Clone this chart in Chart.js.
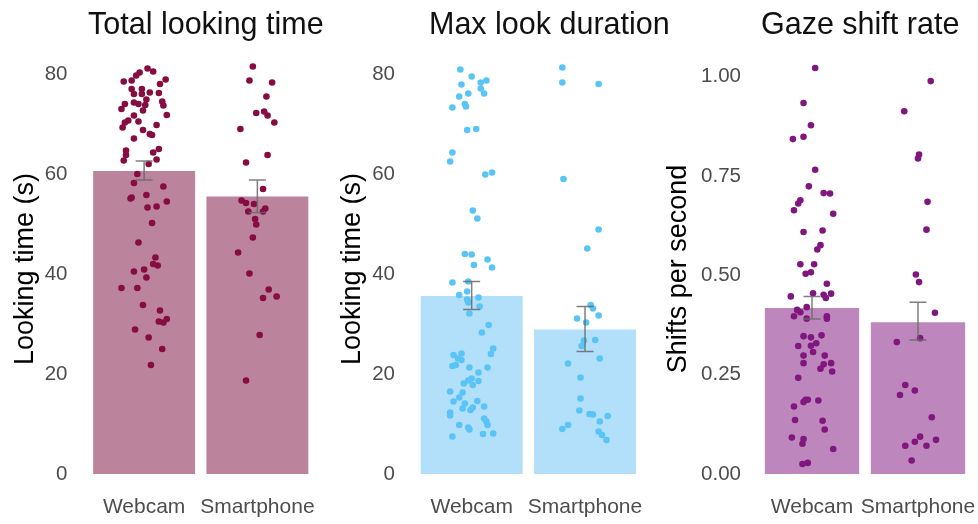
<!DOCTYPE html>
<html>
<head>
<meta charset="utf-8">
<script src="https://cdn.jsdelivr.net/npm/chart.js@4.4.1/dist/chart.umd.min.js"></script>
<style>
  html, body { margin: 0; padding: 0; background: #ffffff; }
  #wrap { position: relative; width: 978px; height: 524px; overflow: hidden; }
  .panel { position: absolute; top: 0; height: 524px; }
  canvas { display: block; }
</style>
</head>
<body>
<div id="wrap">
  <div class="panel" style="left:0px;width:326px"><canvas id="total" width="326" height="524"></canvas></div>
  <div class="panel" style="left:326px;width:346px"><canvas id="maxlook" width="346" height="524"></canvas></div>
  <div class="panel" style="left:652px;width:326px"><canvas id="shift" width="326" height="524"></canvas></div>
</div>
<script>
// ---- data ---------------------------------------------------------------
const groups = ['Webcam', 'Smartphone'];
const groupPositions = [0, 1];

const lookTicks = [0, 20, 40, 60, 80];
const shiftTicks = [0, 0.25, 0.5, 0.75, 1];

// Total looking time (s): group means and standard-error limits
const totalMean = [60.6, 55.5];
const totalLow = [58.8, 52.3];
const totalHigh = [62.6, 58.8];
// per-participant values, with horizontal jitter in group units
const totalWebcam = [78.5, 78.7, 79.7, 80.3, 81.1, 80.5, 78.9, 78.0, 77.0, 77.0, 76.0, 76.0, 76.3, 76.2, 74.9, 74.3, 74.0, 74.0, 73.0, 73.8, 74.5, 73.7, 72.7, 71.7, 71.8, 70.7, 70.3, 69.3, 70.5, 69.8, 68.8, 68.0, 67.8, 67.1, 64.7, 63.8, 62.7, 65.0, 64.3, 62.9, 62.0, 60.0, 58.2, 57.5, 55.3, 55.1, 55.8, 54.5, 53.3, 53.5, 50.2, 46.3, 43.3, 42.0, 41.7, 40.5, 40.9, 39.3, 37.2, 37.2, 33.8, 32.7, 30.5, 30.3, 31.0, 28.9, 27.3, 25.0, 21.8];
const totalWebcamJitter = [-0.18, -0.11, -0.07, -0.04, 0.03, 0.08, 0.19, 0.14, -0.11, -0.02, -0.09, -0.02, 0.05, 0.13, 0.02, -0.09, -0.05, -0.17, -0.20, 0.01, 0.16, 0.17, -0.01, -0.09, 0.20, -0.14, -0.17, -0.19, -0.05, 0.11, -0.01, 0.05, 0.07, -0.09, -0.16, -0.16, -0.18, 0.13, 0.08, 0.11, 0.04, -0.06, -0.09, 0.17, -0.11, -0.12, 0.02, 0.20, 0.03, 0.11, 0.07, -0.05, 0.10, 0.08, 0.12, -0.09, 0.00, 0.02, -0.20, -0.06, -0.01, 0.14, 0.13, 0.17, 0.20, -0.08, 0.04, 0.16, 0.06];
const totalPhone = [81.5, 78.7, 78.3, 75.5, 72.2, 72.5, 71.7, 70.3, 69.0, 63.8, 62.3, 57.0, 54.7, 54.2, 54.0, 53.1, 52.5, 52.5, 51.0, 49.9, 47.3, 44.3, 40.1, 36.9, 35.2, 35.5, 27.8, 18.7];
const totalPhoneJitter = [-0.04, -0.07, 0.13, 0.08, -0.01, 0.06, 0.09, 0.15, -0.15, 0.09, -0.10, 0.05, -0.14, -0.10, -0.03, 0.07, 0.05, -0.08, -0.02, -0.01, -0.04, -0.17, -0.07, 0.10, 0.05, 0.17, 0.02, -0.10];

// Max look duration (s)
const maxMean = [35.6, 28.9];
const maxLow = [32.9, 24.5];
const maxHigh = [38.5, 33.5];
const maxWebcam = [80.9, 79.5, 78.7, 78.3, 77.9, 77.1, 76.1, 76.1, 75.5, 74.0, 73.5, 73.3, 68.8, 69.0, 64.3, 62.5, 59.9, 60.3, 52.7, 51.1, 44.0, 43.9, 42.9, 41.8, 41.3, 38.3, 38.5, 36.5, 35.8, 35.3, 34.9, 34.3, 33.5, 32.1, 29.8, 28.3, 25.1, 24.0, 23.8, 24.1, 23.1, 22.8, 21.6, 21.8, 21.3, 21.3, 20.3, 19.1, 18.7, 18.1, 18.6, 17.8, 16.3, 16.5, 15.3, 14.5, 14.1, 14.6, 13.3, 13.1, 13.5, 12.8, 12.3, 11.7, 11.1, 10.5, 9.8, 9.8, 9.3, 8.9, 8.0, 8.1, 7.5];
const maxWebcamJitter = [-0.10, 0.00, 0.13, 0.08, -0.09, 0.08, 0.11, -0.03, -0.11, -0.06, -0.05, -0.17, -0.04, 0.04, -0.17, -0.19, 0.12, 0.18, 0.01, 0.05, -0.06, 0.00, 0.14, 0.02, 0.18, -0.17, -0.03, -0.04, -0.11, 0.06, -0.04, -0.03, 0.07, -0.02, 0.15, 0.09, 0.19, 0.17, -0.16, -0.09, -0.12, -0.09, -0.17, -0.14, -0.02, 0.14, 0.06, 0.00, -0.03, -0.07, 0.06, 0.01, -0.08, -0.19, -0.11, -0.16, -0.06, 0.05, 0.01, -0.08, 0.11, -0.01, -0.19, -0.19, 0.11, 0.13, 0.14, -0.11, -0.03, -0.02, 0.10, 0.19, -0.17];
const maxPhone = [81.3, 78.3, 78.0, 59.0, 48.9, 45.1, 33.8, 33.1, 31.1, 31.7, 30.3, 26.7, 26.8, 25.6, 23.1, 22.1, 19.3, 15.1, 12.7, 12.0, 11.9, 11.6, 10.5, 9.8, 9.0, 8.5, 7.8, 6.8];
const maxPhoneJitter = [-0.20, -0.20, 0.12, -0.19, 0.12, 0.02, 0.05, 0.07, -0.07, 0.12, 0.01, -0.01, 0.09, -0.03, 0.13, -0.15, -0.04, -0.04, -0.05, 0.04, 0.07, 0.20, 0.13, -0.15, -0.20, 0.12, 0.15, 0.19];

// Gaze shift rate (shifts per second)
const shiftMean = [0.418, 0.382];
const shiftLow = [0.390, 0.337];
const shiftHigh = [0.447, 0.432];
const shiftWebcam = [1.022, 0.934, 0.878, 0.849, 0.843, 0.766, 0.724, 0.707, 0.706, 0.689, 0.681, 0.664, 0.655, 0.609, 0.613, 0.576, 0.565, 0.528, 0.528, 0.508, 0.504, 0.479, 0.447, 0.455, 0.451, 0.454, 0.443, 0.420, 0.413, 0.407, 0.397, 0.391, 0.397, 0.391, 0.347, 0.344, 0.349, 0.329, 0.322, 0.323, 0.307, 0.298, 0.298, 0.276, 0.279, 0.265, 0.279, 0.258, 0.242, 0.187, 0.187, 0.181, 0.185, 0.170, 0.136, 0.134, 0.112, 0.092, 0.088, 0.076, 0.063, 0.025, 0.028];
const shiftWebcamJitter = [0.03, -0.08, -0.01, -0.08, -0.18, 0.03, -0.03, 0.11, 0.17, -0.11, -0.13, -0.17, 0.20, -0.08, 0.10, 0.08, 0.05, -0.11, 0.02, -0.01, -0.06, 0.14, -0.20, 0.01, 0.11, 0.18, 0.13, -0.05, -0.14, -0.11, -0.17, -0.05, 0.14, 0.14, -0.08, -0.01, 0.09, 0.04, -0.13, -0.01, 0.01, -0.08, 0.12, 0.11, 0.18, 0.08, -0.08, 0.19, -0.13, -0.06, -0.04, -0.08, 0.06, -0.17, -0.16, 0.10, 0.12, -0.19, -0.08, -0.09, 0.20, -0.09, -0.04];
const shiftPhone = [0.989, 0.913, 0.804, 0.794, 0.685, 0.615, 0.502, 0.483, 0.406, 0.342, 0.332, 0.224, 0.210, 0.199, 0.143, 0.094, 0.086, 0.081, 0.071, 0.071, 0.034];
const shiftPhoneJitter = [0.12, -0.13, 0.01, 0.00, 0.09, 0.08, -0.02, 0.01, 0.16, 0.02, -0.20, -0.12, -0.03, -0.17, 0.13, 0.02, 0.17, -0.03, -0.12, 0.08, -0.06];

// ---- drawing ------------------------------------------------------------
const FONT = '"Liberation Sans", Arial, Helvetica, sans-serif';
Chart.defaults.font.family = FONT;

function points(values, jitter, groupIndex) {
  return values.map((v, i) => ({ x: groupPositions[groupIndex] + jitter[i], y: v }));
}

function buildPanel(id, p) {
  // panel heading, left-aligned near the plotting area
  const panelTitle = {
    id: 'panelTitle',
    afterDraw(chart) {
      const ctx = chart.ctx;
      ctx.save();
      ctx.font = '30.5px ' + FONT;
      ctx.fillStyle = '#111111';
      ctx.textAlign = 'left';
      ctx.textBaseline = 'alphabetic';
      ctx.fillText(p.title, p.titleX, 34);
      ctx.restore();
    }
  };
  // standard-error whiskers drawn over the bars and points
  const errorBars = {
    id: 'errorBars',
    afterDatasetsDraw(chart) {
      const ctx = chart.ctx;
      const xs = chart.scales.x, ys = chart.scales.y;
      ctx.save();
      ctx.strokeStyle = 'rgba(105,105,105,0.85)';
      ctx.lineWidth = 1.5;
      p.low.forEach((lo, i) => {
        const x = xs.getPixelForValue(groupPositions[i]);
        const y1 = ys.getPixelForValue(lo);
        const y2 = ys.getPixelForValue(p.high[i]);
        const cap = 8.5;
        ctx.beginPath();
        ctx.moveTo(x, y1); ctx.lineTo(x, y2);
        ctx.moveTo(x - cap, y1); ctx.lineTo(x + cap, y1);
        ctx.moveTo(x - cap, y2); ctx.lineTo(x + cap, y2);
        ctx.stroke();
      });
      ctx.restore();
    }
  };

  const pointStyle = {
    type: 'scatter',
    pointRadius: 3.3,
    pointHoverRadius: 3.3,
    pointBorderWidth: 0,
    pointBackgroundColor: p.dot,
    backgroundColor: p.dot,
    borderColor: p.dot,
    showLine: false,
    clip: false,
    order: 1
  };

  new Chart(document.getElementById(id), {
    type: 'scatter',
    data: {
      datasets: [
        {
          type: 'bar',
          data: p.mean.map((m, i) => ({ x: groupPositions[i], y: m })),
          backgroundColor: p.bar,
          borderWidth: 0,
          grouped: false,
          categoryPercentage: 1,
          barPercentage: p.barPct,
          order: 2
        },
        Object.assign({ data: points(p.webcam, p.webcamJitter, 0) }, pointStyle),
        Object.assign({ data: points(p.phone, p.phoneJitter, 1) }, pointStyle)
      ]
    },
    options: {
      responsive: false,
      animation: false,
      events: [],
      layout: { padding: { left: 0, right: p.padRight, top: 64, bottom: 0 } },
      plugins: { legend: { display: false }, tooltip: { enabled: false }, title: { display: false } },
      scales: {
        x: {
          type: 'linear',
          min: -0.5,
          max: 1.5,
          offset: false,
          grid: { display: false, drawTicks: false },
          border: { display: false },
          afterBuildTicks(s) { s.ticks = groupPositions.map(v => ({ value: v })); },
          ticks: {
            color: '#4d4d4d',
            font: { size: 21, family: FONT },
            padding: 21,
            maxRotation: 0,
            autoSkip: false,
            callback: v => groups[groupPositions.indexOf(v)]
          },
          afterFit(s) { s.height = 50; s.paddingLeft = 0; s.paddingRight = 0; }
        },
        y: {
          type: 'linear',
          min: 0,
          max: p.yMax,
          grid: { display: false, drawTicks: false },
          border: { display: false },
          afterBuildTicks(s) { s.ticks = p.ticks.map(v => ({ value: v })); },
          ticks: {
            color: '#4d4d4d',
            font: { size: 20.5, family: FONT },
            padding: p.tickPad,
            callback: v => p.fmt(v)
          },
          title: {
            display: true,
            text: p.yTitle,
            color: '#000000',
            font: { size: 27, family: FONT },
            padding: { top: p.titlePad, bottom: 0 }
          },
          afterFit(s) { s.width = p.axisWidth; s.paddingTop = 0; s.paddingBottom = 0; }
        }
      }
    },
    plugins: [errorBars, panelTitle]
  });
}

buildPanel('total', {
  title: 'Total looking time', titleX: 88,
  yTitle: 'Looking time (s)', ticks: lookTicks, fmt: v => String(v), yMax: 82,
  mean: totalMean, low: totalLow, high: totalHigh,
  webcam: totalWebcam, webcamJitter: totalWebcamJitter,
  phone: totalPhone, phoneJitter: totalPhoneJitter,
  bar: '#bc849c', dot: '#860c41',
  barPct: 0.9, axisWidth: 87.5, tickPad: 20, titlePad: 9.5, padRight: 12
});

buildPanel('maxlook', {
  title: 'Max look duration', titleX: 103,
  yTitle: 'Looking time (s)', ticks: lookTicks, fmt: v => String(v), yMax: 82,
  mean: maxMean, low: maxLow, high: maxHigh,
  webcam: maxWebcam, webcamJitter: maxWebcamJitter,
  phone: maxPhone, phoneJitter: maxPhoneJitter,
  bar: '#b2e0fa', dot: '#5bc4f6',
  barPct: 0.9, axisWidth: 89, tickPad: 20, titlePad: 10.8, padRight: 30.3
});

buildPanel('shift', {
  title: 'Gaze shift rate', titleX: 109,
  yTitle: 'Shifts per second', ticks: shiftTicks, fmt: v => v.toFixed(2), yMax: 1.032,
  mean: shiftMean, low: shiftLow, high: shiftHigh,
  webcam: shiftWebcam, webcamJitter: shiftWebcamJitter,
  phone: shiftPhone, phoneJitter: shiftPhoneJitter,
  bar: '#bd87bd', dot: '#82167f',
  barPct: 0.89, axisWidth: 107, tickPad: 18, titlePad: 10.8, padRight: 7
});
</script>
</body>
</html>
